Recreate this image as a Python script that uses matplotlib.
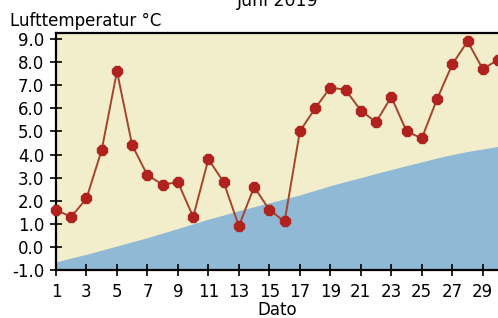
import matplotlib
matplotlib.use("Agg")
import matplotlib.pyplot as plt
import numpy as np

days = list(range(1, 31))
temperature = [1.6, 1.3, 2.1, 4.2, 7.6, 4.4, 3.1, 2.7, 2.8, 1.3,
               3.8, 2.8, 0.9, 2.6, 1.6, 1.1, 5.0, 6.0, 6.9, 6.8,
               5.9, 5.4, 6.5, 5.0, 4.7, 6.4, 7.9, 8.9, 7.7, 8.1]
normal = [-0.65, -0.48, -0.32, -0.14, 0.04, 0.22, 0.40, 0.60, 0.80, 1.00,
          1.20, 1.38, 1.57, 1.74, 1.91, 2.08, 2.25, 2.45, 2.65, 2.83,
          3.00, 3.18, 3.35, 3.52, 3.68, 3.85, 4.00, 4.13, 4.24, 4.35]
xticks = list(range(1, 30, 2))
yticks = [-1, 0, 1, 2, 3, 4, 5, 6, 7, 8, 9]

fig = plt.figure(figsize=(4.98, 3.18), dpi=100)
ax = fig.add_axes([56/498, 1-270/318, 1-56/498, (270-33)/318])
ax.set_facecolor("#F2EECB")
ax.fill_between(days, -1, normal, color="#8FB9D4", linewidth=0)
ax.plot(days, temperature, color="#A4442E", linewidth=1.4,
        marker="8", markersize=7.6, markerfacecolor="#B0221E",
        markeredgecolor="#B0221E", clip_on=False, zorder=3)

ax.set_xlim(1, 30)
ax.set_ylim(-1, 9.26)
ax.set_xticks(xticks)
ax.set_xticklabels([str(t) for t in xticks])
ax.set_yticks(yticks)
ax.set_yticklabels([f"{t:.1f}" for t in yticks])
ax.tick_params(direction="inout", length=9, width=1.2, labelsize=12,
               colors="black")
ax.tick_params(axis="x", pad=5)
ax.tick_params(axis="y", pad=4)
for side in ["left", "bottom", "top"]:
    ax.spines[side].set_linewidth(1.6)
ax.spines["right"].set_visible(False)

ax.set_xlabel("Dato", fontsize=12, labelpad=0)
fig.text(10/498, 1-21/318, "Lufttemperatur °C", fontsize=12, va="center", ha="left")
fig.text(278/498, 1-1/318, "Juni 2019", fontsize=12.5, va="center", ha="center")

fig.savefig("out.png", dpi=100)
